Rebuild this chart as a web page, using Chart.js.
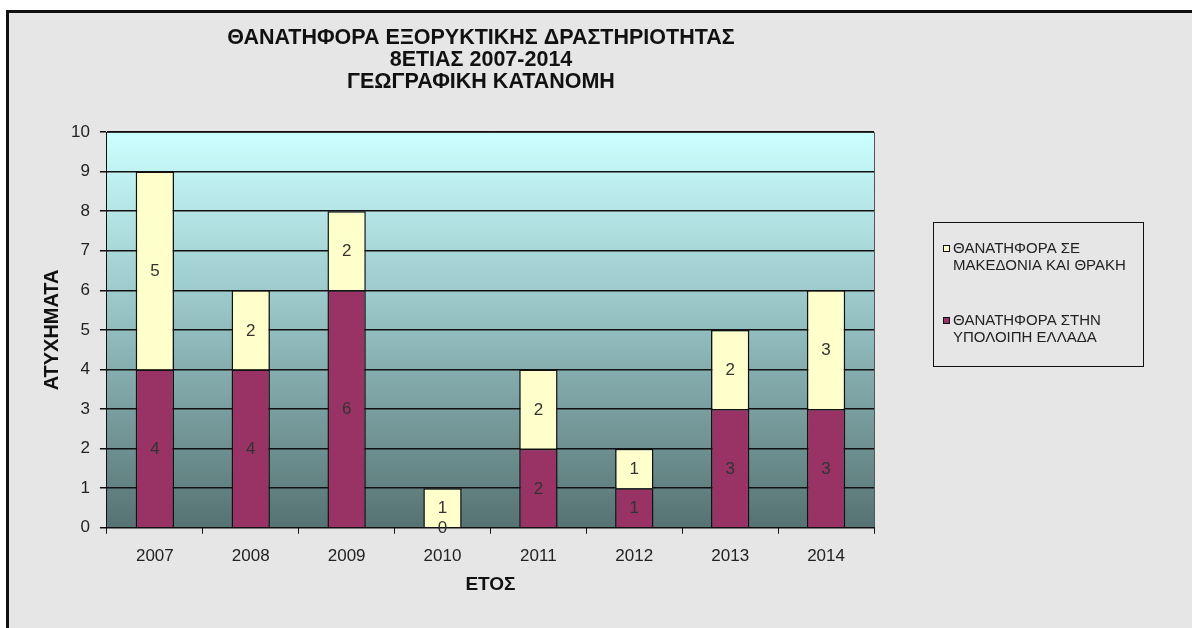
<!DOCTYPE html>
<html>
<head>
<meta charset="utf-8">
<script src="https://cdn.jsdelivr.net/npm/chart.js@4"></script>
<style>
  html, body { margin: 0; padding: 0; background: #ffffff; }
  #frame {
    position: absolute; left: 6px; top: 10px; width: 1200px; height: 640px;
    border: 3px solid #111; background: #e6e6e6;
  }
  #wrap { position: absolute; left: 0; top: 0; width: 1192px; height: 628px; }
</style>
</head>
<body>
<div id="frame"></div>
<div id="wrap"><canvas id="bar_chart" width="1192" height="628"></canvas></div>
<script>
var years = ['2007', '2008', '2009', '2010', '2011', '2012', '2013', '2014'];
var restOfGreece = [4, 4, 6, 0, 2, 1, 3, 3];
var macedoniaThrace = [5, 2, 2, 1, 2, 1, 2, 3];
var yTicks = [0, 1, 2, 3, 4, 5, 6, 7, 8, 9, 10];

var titleLines = ['ΘΑΝΑΤΗΦΟΡΑ ΕΞΟΡΥΚΤΙΚΗΣ ΔΡΑΣΤΗΡΙΟΤΗΤΑΣ', '8ΕΤΙΑΣ 2007-2014', 'ΓΕΩΓΡΑΦΙΚΗ ΚΑΤΑΝΟΜΗ'];
var labelRest = 'ΘΑΝΑΤΗΦΟΡΑ ΣΤΗΝ\nΥΠΟΛΟΙΠΗ ΕΛΛΑΔΑ';
var labelMac = 'ΘΑΝΑΤΗΦΟΡΑ ΣΕ\nΜΑΚΕΔΟΝΙΑ ΚΑΙ ΘΡΑΚΗ';

var FONT = '"Liberation Sans", Arial, sans-serif';

// gradient behind the plot area
var plotBg = {
    id: 'plotBg',
    beforeDraw: function (chart) {
        var a = chart.chartArea, ctx = chart.ctx;
        var g = ctx.createLinearGradient(0, a.top, 0, a.bottom);
        g.addColorStop(0, '#ccffff');
        g.addColorStop(0.45, '#98c4c6');
        g.addColorStop(1, '#567272');
        ctx.save();
        ctx.fillStyle = g;
        ctx.fillRect(a.left, a.top, a.right - a.left, a.bottom - a.top);
        ctx.strokeStyle = '#555';
        ctx.lineWidth = 1;
        ctx.beginPath();
        ctx.moveTo(a.left, a.top + 0.5);
        ctx.lineTo(a.right + 0.5, a.top + 0.5);
        ctx.lineTo(a.right + 0.5, a.bottom);
        ctx.stroke();
        ctx.restore();
    }
};

// three-line heading, centred a bit left of the plot centre
var heading = {
    id: 'heading',
    afterDraw: function (chart) {
        var ctx = chart.ctx;
        ctx.save();
        ctx.font = 'bold 21.5px ' + FONT;
        ctx.fillStyle = '#111';
        ctx.textAlign = 'center';
        ctx.textBaseline = 'middle';
        titleLines.forEach(function (line, i) {
            ctx.fillText(line, 481, 38 + i * 22);
        });
        ctx.restore();
    }
};

// values written in the middle of each segment
var segLabels = {
    id: 'segLabels',
    afterDatasetsDraw: function (chart) {
        var ctx = chart.ctx;
        ctx.save();
        ctx.font = '17px ' + FONT;
        ctx.fillStyle = '#333';
        ctx.textAlign = 'center';
        ctx.textBaseline = 'middle';
        chart.data.datasets.forEach(function (ds, i) {
            chart.getDatasetMeta(i).data.forEach(function (el, j) {
                var y = (el.y + el.base) / 2;
                ctx.fillText(String(ds.data[j]), el.x, y + 1);
            });
        });
        ctx.restore();
    }
};

// legend box on the right
var sideLegend = {
    id: 'sideLegend',
    afterDraw: function (chart) {
        var ctx = chart.ctx;
        var bx = 933, by = 222, bw = 210, bh = 144;
        ctx.save();
        ctx.strokeStyle = '#111';
        ctx.lineWidth = 1;
        ctx.strokeRect(bx + 0.5, by + 0.5, bw, bh);
        ctx.font = '15px ' + FONT;
        ctx.textBaseline = 'middle';
        ctx.textAlign = 'left';
        var items = chart.data.datasets.slice().reverse();
        var itemY = [249, 321];
        items.forEach(function (ds, k) {
            var y0 = itemY[k];
            ctx.fillStyle = ds.backgroundColor;
            ctx.fillRect(943, y0 - 4, 7, 7);
            ctx.strokeStyle = '#111';
            ctx.strokeRect(943.5, y0 - 3.5, 6, 6);
            ctx.fillStyle = '#222';
            ds.label.split('\n').forEach(function (line, n) {
                ctx.fillText(line, 953, y0 + n * 17);
            });
        });
        ctx.restore();
    }
};

config = {
    type: 'bar',
    data: {
        labels: years,
        datasets: [{
            label: labelRest,
            data: restOfGreece,
            backgroundColor: '#993366',
            borderColor: '#111',
            borderWidth: 1.5,
            categoryPercentage: 1,
            barPercentage: 0.4
        }, {
            label: labelMac,
            data: macedoniaThrace,
            backgroundColor: '#ffffcc',
            borderColor: '#111',
            borderWidth: 1.5,
            categoryPercentage: 1,
            barPercentage: 0.4
        }]
    },
    options: {
        responsive: false,
        animation: false,
        layout: { padding: { left: 28, right: 318, top: 132, bottom: 28 } },
        plugins: {
            legend: { display: false },
            tooltip: { enabled: false },
            title: { display: false }
        },
        scales: {
            x: {
                stacked: true,
                grid: { display: true, drawOnChartArea: false, offset: true, tickLength: 6, color: '#111' },
                border: { color: '#111', width: 1 },
                ticks: { color: '#222', font: { family: FONT, size: 17 }, padding: 12 },
                title: { display: true, text: 'ΕΤΟΣ', color: '#111', font: { family: FONT, size: 19, weight: 'bold' }, padding: { top: -5, bottom: 4 } }
            },
            y: {
                stacked: true,
                min: 0,
                max: 10,
                afterBuildTicks: function (scale) {
                    scale.ticks = yTicks.map(function (v) { return { value: v }; });
                },
                grid: { color: '#111', lineWidth: 1.5, tickLength: 7 },
                border: { color: '#111', width: 1 },
                ticks: { color: '#222', font: { family: FONT, size: 17 }, padding: 10 },
                title: { display: true, text: 'ΑΤΥΧΗΜΑΤΑ', color: '#111', font: { family: FONT, size: 20, weight: 'bold' }, padding: { top: 12, bottom: -3 } }
            }
        }
    },
    plugins: [plotBg, segLabels, sideLegend, heading]
};

function chart() {
    new Chart(document.getElementById('bar_chart').getContext('2d'), config);
}
var config;
chart();
</script>
</body>
</html>
